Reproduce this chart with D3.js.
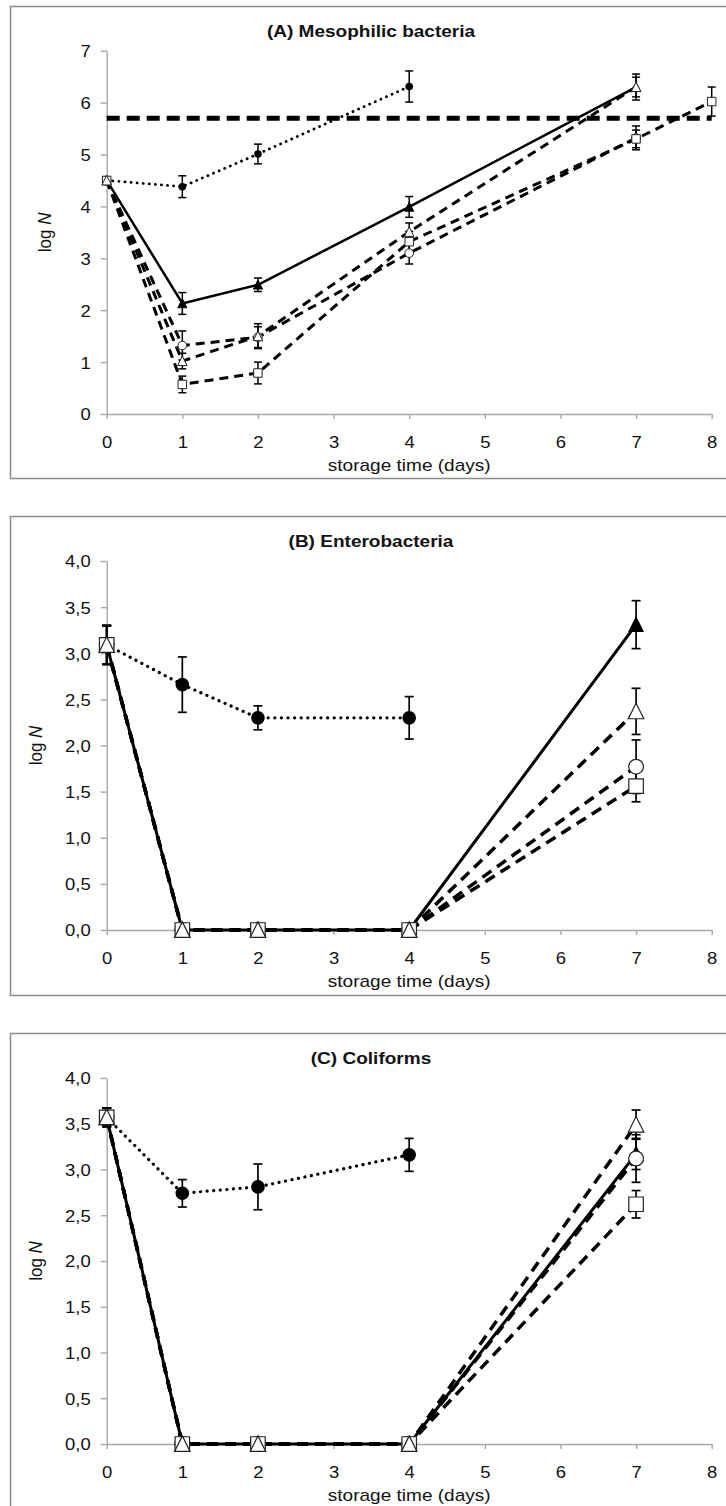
<!DOCTYPE html>
<html>
<head>
<meta charset="utf-8">
<script src="https://cdn.jsdelivr.net/npm/d3@7"></script>
<style>
  html, body { margin: 0; padding: 0; background: #fff; }
  svg { display: block; }
  text { font-family: "Liberation Sans", Arial, sans-serif; fill: #111; }
</style>
</head>
<body>
<svg id="chart" width="726" height="1506"></svg>
<script>
// ---- data -------------------------------------------------------------
const daysA = [0, 1, 2, 4, 7, 8];
const daysBC = [0, 1, 2, 4, 7];
const xTicks = [0, 1, 2, 3, 4, 5, 6, 7, 8];

// (A) Mesophilic bacteria, log N
const mesoYTicks = [0, 1, 2, 3, 4, 5, 6, 7];
const mesoLimit = 5.7;
const mesoDotted      = [4.50, 4.38, 5.01, 6.31, null, null];
const mesoDottedErr   = [0.07, 0.21, 0.19, 0.30, null, null];
const mesoSolid       = [4.50, 2.13, 2.49, 3.99, 6.30, null];
const mesoSolidErr    = [0.07, 0.21, 0.13, 0.20, 0.25, null];
const mesoCircle      = [4.50, 1.32, 1.48, 3.10, 5.32, null];
const mesoCircleErr   = [0.07, 0.28, 0.20, 0.21, 0.23, null];
const mesoSquare      = [4.50, 0.57, 0.79, 3.32, 5.30, 6.02];
const mesoSquareErr   = [0.07, 0.16, 0.21, 0.20, 0.17, 0.28];
const mesoTriangle    = [4.50, 1.02, 1.50, 3.51, 6.30, null];
const mesoTriangleErr = [0.07, 0.15, 0.24, 0.17, 0.19, null];

// (B) Enterobacteria, log N
const entYTicks = [0, 0.5, 1, 1.5, 2, 2.5, 3, 3.5, 4];
const entDotted      = [3.09, 2.66, 2.30, 2.30, null];
const entDottedErr   = [0.21, 0.30, 0.13, 0.23, null];
const entSolid       = [3.09, 0, 0, 0, 3.31];
const entSolidErr    = [0.21, 0, 0, 0, 0.26];
const entCircle      = [3.09, 0, 0, 0, 1.77];
const entCircleErr   = [0.21, 0, 0, 0, 0.29];
const entSquare      = [3.09, 0, 0, 0, 1.56];
const entSquareErr   = [0.21, 0, 0, 0, 0.17];
const entTriangle    = [3.09, 0, 0, 0, 2.37];
const entTriangleErr = [0.21, 0, 0, 0, 0.25];

// (C) Coliforms, log N
const coliYTicks = [0, 0.5, 1, 1.5, 2, 2.5, 3, 3.5, 4];
const coliDotted      = [3.57, 2.74, 2.81, 3.16, null];
const coliDottedErr   = [0.10, 0.15, 0.25, 0.18, null];
const coliSolid       = [3.57, 0, 0, 0, 3.17];
const coliSolidErr    = [0.10, 0, 0, 0, 0.17];
const coliCircle      = [3.57, 0, 0, 0, 3.12];
const coliCircleErr   = [0.10, 0, 0, 0, 0.26];
const coliSquare      = [3.57, 0, 0, 0, 2.62];
const coliSquareErr   = [0.10, 0, 0, 0, 0.15];
const coliTriangle    = [3.57, 0, 0, 0, 3.49];
const coliTriangleErr = [0.10, 0, 0, 0, 0.16];

// ---- layout -----------------------------------------------------------
const SX = 1.12;              // horizontal text stretch
const X0 = 106.7, X1 = 711.7; // plot x-range
const commaFmt = d => d.toFixed(1).replace(".", ",");

function series(values, errors, line, marker) {
  return { values, errors, line, marker };
}

const panels = [
  {
    title: "(A) Mesophilic bacteria", frameTop: 6, frameBottom: 478,
    plotTop: 50.7, plotBottom: 414, yMax: 7, yTicks: mesoYTicks, fmt: d3.format("d"),
    yTitleX: 51, big: false, days: daysA, limit: mesoLimit,
    series: [
      series(mesoDotted, mesoDottedErr, "dotted", "dot"),
      series(mesoSolid, mesoSolidErr, "solid", "filledTri"),
      series(mesoCircle, mesoCircleErr, "dashed", "circle"),
      series(mesoSquare, mesoSquareErr, "dashed", "square"),
      series(mesoTriangle, mesoTriangleErr, "dashed", "tri")
    ]
  },
  {
    title: "(B) Enterobacteria", frameTop: 516, frameBottom: 995,
    plotTop: 561, plotBottom: 930, yMax: 4, yTicks: entYTicks, fmt: commaFmt,
    yTitleX: 42, big: true, days: daysBC, limit: null,
    series: [
      series(entDotted, entDottedErr, "dotted", "dot"),
      series(entSolid, entSolidErr, "solid", "filledTri"),
      series(entCircle, entCircleErr, "dashed", "circle"),
      series(entSquare, entSquareErr, "dashed", "square"),
      series(entTriangle, entTriangleErr, "dashed", "tri")
    ]
  },
  {
    title: "(C) Coliforms", frameTop: 1033, frameBottom: 1512,
    plotTop: 1078, plotBottom: 1444, yMax: 4, yTicks: coliYTicks, fmt: commaFmt,
    yTitleX: 42, big: true, days: daysBC, limit: null,
    series: [
      series(coliDotted, coliDottedErr, "dotted", "dot"),
      series(coliSolid, coliSolidErr, "solid", "filledTri"),
      series(coliCircle, coliCircleErr, "dashed", "circle"),
      series(coliSquare, coliSquareErr, "dashed", "square"),
      series(coliTriangle, coliTriangleErr, "dashed", "tri")
    ]
  }
];

const svg = d3.select("#chart");

function stretchedText(parent, x, y, str, size, anchor, weight) {
  return parent.append("text")
    .attr("transform", `translate(${x},${y}) scale(${SX},1)`)
    .attr("text-anchor", anchor)
    .style("font-size", size + "px")
    .style("font-weight", weight || "normal")
    .text(str);
}

function markerPath(kind, s) {
  const h = s / 2;
  if (kind === "square") return `M${-h},${-h}H${h}V${h}H${-h}Z`;
  // triangle, apex up
  return `M0,${-h * 1.05}L${h},${h * 0.95}L${-h},${h * 0.95}Z`;
}

function drawPanel(p) {
  const g = svg.append("g");
  const big = p.big;

  // chart frame (open to the right edge)
  g.append("rect")
    .attr("x", 10.5).attr("y", p.frameTop + 0.5)
    .attr("width", 740).attr("height", p.frameBottom - p.frameTop)
    .attr("fill", "#fff").attr("stroke", "#8c8c8c").attr("stroke-width", 1.5);

  const x = d3.scaleLinear().domain([0, 8]).range([X0, X1]);
  const y = d3.scaleLinear().domain([0, p.yMax]).range([p.plotBottom, p.plotTop]);

  // axes
  const xAxis = g.append("g")
    .attr("transform", `translate(0,${p.plotBottom})`)
    .call(d3.axisBottom(x).tickValues(xTicks).tickSize(5).tickSizeOuter(0).tickFormat(d3.format("d")));
  const yAxis = g.append("g")
    .attr("transform", `translate(${X0},0)`)
    .call(d3.axisLeft(y).tickValues(p.yTicks).tickSize(6).tickSizeOuter(0).tickFormat(p.fmt));

  [xAxis, yAxis].forEach(a => {
    a.select(".domain").attr("stroke", "#a8a8a8").attr("stroke-width", 1.4);
    a.selectAll(".tick line").attr("stroke", "#a8a8a8").attr("stroke-width", 1.4);
    a.selectAll("text").style("font-family", '"Liberation Sans", Arial, sans-serif')
      .style("font-size", "16.5px").attr("fill", "#111");
  });
  xAxis.selectAll(".tick text")
    .attr("y", 0).attr("dy", 0)
    .attr("transform", `translate(0,33.5) scale(${SX},1)`);
  yAxis.selectAll(".tick text")
    .attr("x", 0).attr("dy", "0.36em")
    .attr("transform", `translate(-16,0) scale(${SX},1)`);

  // titles
  stretchedText(g, 371, p.frameTop + 30.5, p.title, 17, "middle", "bold");
  stretchedText(g, (X0 + X1) / 2, p.plotBottom + 57, "storage time (days)", 17, "middle");
  const yt = g.append("text")
    .attr("transform", `translate(${p.yTitleX},${(p.plotTop + p.plotBottom) / 2}) scale(${SX},1) rotate(-90)`)
    .attr("text-anchor", "middle")
    .style("font-size", "17px");
  yt.append("tspan").text("log ");
  yt.append("tspan").style("font-style", "italic").text("N");

  // series lines
  const lineGen = d3.line()
    .defined(d => d.v != null)
    .x(d => x(d.t)).y(d => y(d.v));

  const lineStyle = {
    solid:  { w: big ? 3 : 2.5, dash: null, cap: "butt" },
    dashed: { w: big ? 3.5 : 3, dash: big ? "11,7" : "9,6", cap: "butt" },
    dotted: { w: big ? 3.2 : 2.8, dash: big ? "0.1,6.5" : "0.1,6", cap: "round" }
  };

  const data = p.series.map(s => ({
    ...s,
    pts: p.days.map((t, i) => ({ t, v: s.values[i], e: s.errors[i] }))
  }));

  // dotted and dashed lines under the solid one
  ["dotted", "dashed", "solid"].forEach(kind => {
    data.filter(s => s.line === kind).forEach(s => {
      const st = lineStyle[kind];
      g.append("path")
        .attr("d", lineGen(s.pts))
        .attr("fill", "none")
        .attr("stroke", "#000")
        .attr("stroke-width", st.w)
        .attr("stroke-linecap", st.cap)
        .attr("stroke-linejoin", "round")
        .attr("stroke-dasharray", st.dash);
    });
  });

  // threshold line
  if (p.limit != null) {
    g.append("line")
      .attr("x1", x(0)).attr("x2", x(8))
      .attr("y1", y(p.limit)).attr("y2", y(p.limit))
      .attr("stroke", "#000").attr("stroke-width", 5)
      .attr("stroke-dasharray", "13,7");
  }

  // error bars
  const capW = big ? 4.5 : 4;
  data.forEach(s => {
    s.pts.filter(d => d.v != null && d.e).forEach(d => {
      const cx = x(d.t), yTop = y(d.v + d.e), yBot = y(d.v - d.e);
      g.append("line").attr("x1", cx).attr("x2", cx).attr("y1", yTop).attr("y2", yBot)
        .attr("stroke", "#000").attr("stroke-width", big ? 1.7 : 1.5);
      [yTop, yBot].forEach(yy => g.append("line")
        .attr("x1", cx - capW).attr("x2", cx + capW).attr("y1", yy).attr("y2", yy)
        .attr("stroke", "#000").attr("stroke-width", big ? 1.7 : 1.5));
    });
  });

  // markers
  const sz = big
    ? { dot: 6.8, circle: 7.4, square: 14.5, tri: 15.5, filledTri: 14 }
    : { dot: 3.8, circle: 4.3, square: 8.5, tri: 9.5, filledTri: 9 };
  const mStroke = big ? 1.2 : 1;
  data.forEach(s => {
    s.pts.filter(d => d.v != null).forEach(d => {
      const cx = x(d.t), cy = y(d.v);
      if (s.marker === "dot") {
        g.append("circle").attr("cx", cx).attr("cy", cy).attr("r", sz.dot).attr("fill", "#000");
      } else if (s.marker === "circle") {
        g.append("circle").attr("cx", cx).attr("cy", cy).attr("r", sz.circle)
          .attr("fill", "#fff").attr("stroke", "#222").attr("stroke-width", mStroke);
      } else {
        const filled = s.marker === "filledTri";
        const shape = s.marker === "square" ? "square" : "tri";
        g.append("path").attr("transform", `translate(${cx},${cy})`)
          .attr("d", markerPath(shape, sz[s.marker]))
          .attr("fill", filled ? "#000" : "#fff")
          .attr("stroke", filled ? "#000" : "#222")
          .attr("stroke-width", mStroke);
      }
    });
  });
}

panels.forEach(drawPanel);
</script>
</body>
</html>
